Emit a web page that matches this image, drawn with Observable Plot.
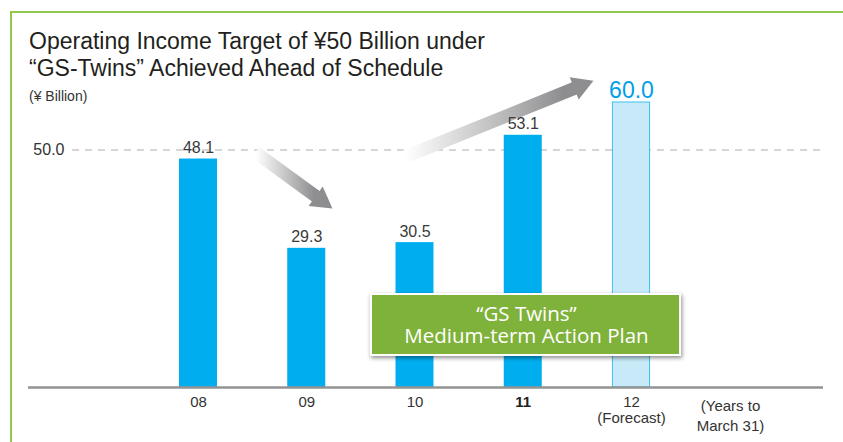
<!DOCTYPE html>
<html><head><meta charset="utf-8">
<script src="https://cdn.jsdelivr.net/npm/d3@7"></script>
<script src="https://cdn.jsdelivr.net/npm/@observablehq/plot@0.6"></script>
<style>
body{margin:0;background:#fff;}
#wrap{position:relative;width:843px;height:442px;overflow:hidden;font-family:"Liberation Sans",Arial,sans-serif;}
#frame{position:absolute;left:10px;top:11px;width:850px;height:460px;border-top:2px solid #92c74e;border-left:2px solid #92c74e;}
.t{position:absolute;left:29px;white-space:nowrap;color:#231f20;line-height:1;}
#chart{position:absolute;left:0;top:0;}
</style></head><body>
<div id="wrap">
<div id="frame"></div>
<div id="chart"></div>
<div class="t" style="top:29.5px;font-size:23px;">Operating Income Target of ¥50 Billion under</div>
<div class="t" style="top:56.5px;font-size:23px;">“GS-Twins” Achieved Ahead of Schedule</div>
<div class="t" style="top:89px;font-size:14px;color:#333;">(¥ Billion)</div>
</div>
<script>
// ---- data ----
const years = ["08", "09", "10", "11", "12"];
const income = [48.1, 29.3, 30.5, 53.1, 60.0];
const isForecast = [false, false, false, false, true];
const tickLabels = ["08", "09", "10", "11", "12\n(Forecast)"];
const boldTick = [false, false, false, true, false];
const target = 50.0;
const unitNote = "(Years to\nMarch 31)";
const boxText = "“GS Twins”\nMedium-term Action Plan";
// annotation arrows (data coords: x = year index, y = ¥ billion)
const arrowX1 = [0.527, 1.912];
const arrowY1 = [49.5, 48.6];
const arrowX2 = [1.134, 3.530];
const arrowY2 = [39.4, 63.5];
const arrowRotate = [126, 68];

const data = years.map((y, i) => ({i, year: y, value: income[i], forecast: isForecast[i], label: tickLabels[i], bold: boldTick[i]}));
const arrows = arrowX1.map((_, k) => ({x1: arrowX1[k], y1: arrowY1[k], x2: arrowX2[k], y2: arrowY2[k], rot: arrowRotate[k]}));

const hw = 0.1755;          // half bar width in band units
const dashX1 = -1.164, dashX2 = 5.755;
const noteX = 4.915;
const box = {x1: 1.598, x2: 4.453, y1: 6.74, y2: 19.58, cx: 3.03, cy: 13.2};

const chart = Plot.plot({
  width: 843, height: 442,
  marginLeft: 28, marginRight: 20, marginTop: 0, marginBottom: 55,
  x: {type: "linear", domain: [-1.5704, 5.7737], axis: null},
  y: {domain: [0, 387 / 4.75], axis: null},
  style: {fontFamily: "Liberation Sans, Arial, sans-serif", background: "transparent", overflow: "visible"},
  marks: [
    Plot.ruleY([target], {x1: dashX1, x2: dashX2, stroke: "#c9c9c9", strokeWidth: 1.5, strokeDasharray: "7,6"}),
    Plot.text([target], {x: dashX1, y: d => d, text: d => d.toFixed(1), textAnchor: "end", dx: -8, fontSize: 16, fill: "#333"}),
    Plot.link(arrows, {x1: "x1", y1: "y1", x2: "x2", y2: "y2", stroke: "url(#arrowGrad)", strokeWidth: 13, strokeLinecap: "butt"}),
    Plot.dot(arrows, {x: "x2", y: "y2", symbol: "triangle", r: 8.9, rotate: "rot", fill: "#8e8e90", stroke: null}),
    Plot.rectY(data.filter(d => !d.forecast), {x1: d => d.i - hw, x2: d => d.i + hw, y: "value", fill: "#00aeef"}),
    Plot.rectY(data.filter(d => d.forecast), {x1: d => d.i - hw + 0.004, x2: d => d.i + hw - 0.004, y: "value", fill: "#c8eaf8", stroke: "#3cc0f0", strokeWidth: 1}),
    Plot.ruleY([0], {stroke: "#939393", strokeWidth: 2.5}),
    Plot.text(data.filter(d => !d.forecast), {x: "i", y: "value", text: d => d.value.toFixed(1), lineAnchor: "bottom", dy: -6, fontSize: 16, fill: "#3a3a3a"}),
    Plot.text(data.filter(d => d.forecast), {x: "i", y: "value", text: d => d.value.toFixed(1), lineAnchor: "bottom", dy: -5, fontSize: 23, fill: "#00a0e6"}),
    Plot.text(data.filter(d => !d.bold), {x: "i", y: 0, text: "label", lineAnchor: "top", dy: 9, fontSize: 15, lineHeight: 1.02, fill: "#333"}),
    Plot.text(data.filter(d => d.bold), {x: "i", y: 0, text: "label", lineAnchor: "top", dy: 9, fontSize: 15, fontWeight: "bold", fill: "#222"}),
    Plot.text([unitNote], {x: noteX, y: 0, text: d => d, lineAnchor: "top", dy: 10, fontSize: 15, lineHeight: 1.3, fill: "#333"}),
    Plot.rect([box], {x1: "x1", x2: "x2", y1: "y1", y2: "y2", fill: "#7fb23a", stroke: "white", strokeWidth: 2, imageFilter: "drop-shadow(1px 2px 2px rgba(0,0,0,0.45))"}),
    Plot.text([box], {x: "cx", y: "cy", text: () => boxText, fill: "white", fontSize: 20.5, lineHeight: 1.1, fontFamily: "Open Sans, Noto Sans, sans-serif"})
  ]
});

const svg = d3.select(chart);
const defs = svg.insert("defs", ":first-child");
const g = defs.append("linearGradient").attr("id", "arrowGrad").attr("x1", 0).attr("y1", 0).attr("x2", 1).attr("y2", 0);
g.append("stop").attr("offset", "0%").attr("stop-color", "#ffffff");
g.append("stop").attr("offset", "90%").attr("stop-color", "#8e8e90");
g.append("stop").attr("offset", "100%").attr("stop-color", "#8e8e90");
document.getElementById("chart").appendChild(chart);
</script>
</body></html>
